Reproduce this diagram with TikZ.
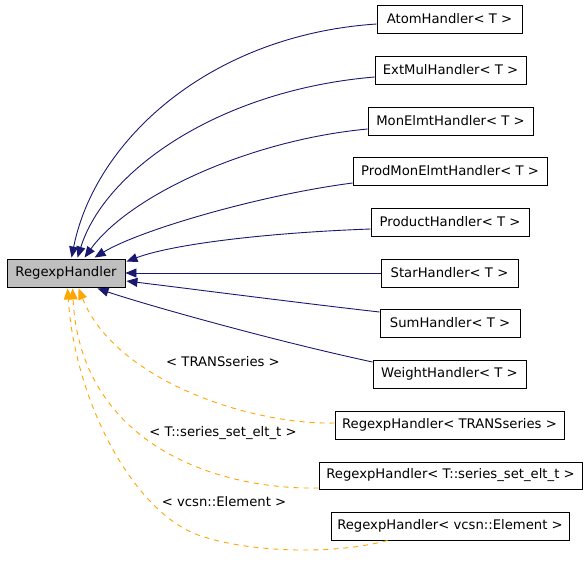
\documentclass[tikz,border=0pt]{standalone}
\usepackage{fontspec}
\setmainfont{DejaVu Sans}
\usetikzlibrary{arrows.meta,calc}
\definecolor{navyedge}{HTML}{191970}
\definecolor{tmplorange}{HTML}{FFA500}
\definecolor{basegray}{HTML}{BFBFBF}
\newcommand{\lblfont}{\fontsize{13.2}{16}\selectfont}
\begin{document}
\begin{tikzpicture}[x=1pt,y=-1pt,
  box/.style={draw=black, line width=0.9pt, minimum height=28pt, inner sep=0pt, font=\lblfont},
  inh/.style={draw=navyedge, line width=0.9pt, -{Triangle[length=11pt,width=9pt]}},
  tmpl/.style={draw=tmplorange, line width=0.9pt, dash pattern=on 5pt off 5pt, -{Triangle[length=11pt,width=9pt]}},
  lbl/.style={font=\lblfont, inner sep=0pt}]
\useasboundingbox (0,0) rectangle (587,563);

\node[box, fill=basegray, minimum width=118pt] (base) at (66,273) {RegexpHandler};
\node[box, minimum width=145pt] (atom) at (449.5,19) {AtomHandler< T >};
\node[box, minimum width=151pt] (extmul) at (450.5,70) {ExtMulHandler< T >};
\node[box, minimum width=165pt] (monelmt) at (450.5,121) {MonElmtHandler< T >};
\node[box, minimum width=194pt] (prodmon) at (450,171) {ProdMonElmtHandler< T >};
\node[box, minimum width=158pt] (product) at (450,222) {ProductHandler< T >};
\node[box, minimum width=137pt] (star) at (449.5,273) {StarHandler< T >};
\node[box, minimum width=140pt] (sum) at (450,323) {SumHandler< T >};
\node[box, minimum width=153pt] (weight) at (449.5,374) {WeightHandler< T >};
\node[box, minimum width=229pt] (trans) at (449.5,425) {RegexpHandler< TRANSseries >};
\node[box, minimum width=263pt, minimum height=27pt] (series) at (450.5,475.5) {RegexpHandler< T::series\_set\_elt\_t >};
\node[box, minimum width=238pt] (vcsn) at (450,526) {RegexpHandler< vcsn::Element >};

\node[lbl] (ltrans) at (223,362) {< TRANSseries >};
\node[lbl] (lseries) at (223,433) {< T::series\_set\_elt\_t >};
\node[lbl] (lvcsn) at (224,502) {< vcsn::Element >};

% inheritance edges
\draw[inh] ($(atom.west)+(0,5)$) .. controls (210,35) and (95,140) .. ($(base.north west)+(65,-1)$);
\draw[inh] ($(extmul.west)+(0,7)$) .. controls (220,90) and (105,170) .. ($(base.north west)+(71,-1)$);
\draw[inh] ($(monelmt.west)+(0,8)$) .. controls (250,140) and (130,195) .. ($(base.north west)+(78,-1)$);
\draw[inh] ($(prodmon.west)+(0,12)$) .. controls (260,195) and (140,230) .. ($(base.north west)+(88,-1)$);
\draw[inh] ($(product.west)+(0,7)$) .. controls (260,233) and (170,245) .. ($(base.north east)+(1,3)$);
\draw[inh] (star.west) -- (base.east);
\draw[inh] ($(sum.west)+(0,-11)$) .. controls (300,303) and (200,290) .. ($(base.east)+(1,8)$);
\draw[inh] ($(weight.west)+(0,-12)$) .. controls (270,340) and (140,303) .. ($(base.south west)+(91,1)$);

% template edges
\draw[tmpl] ($(trans.west)+(0,-2)$) .. controls (250,425) and (115,380) .. ($(base.south west)+(72,1)$);
\draw[tmpl] ($(series.west)+(0,12.5)$) .. controls (210,490) and (80,440) .. ($(base.south west)+(66,1)$);
\draw[tmpl] ($(vcsn.south west)+(57,0)$) .. controls (330,556) and (240,552) .. (193,533) .. controls (130,505) and (75,400) .. ($(base.south west)+(61,1)$);
\end{tikzpicture}
\end{document}
